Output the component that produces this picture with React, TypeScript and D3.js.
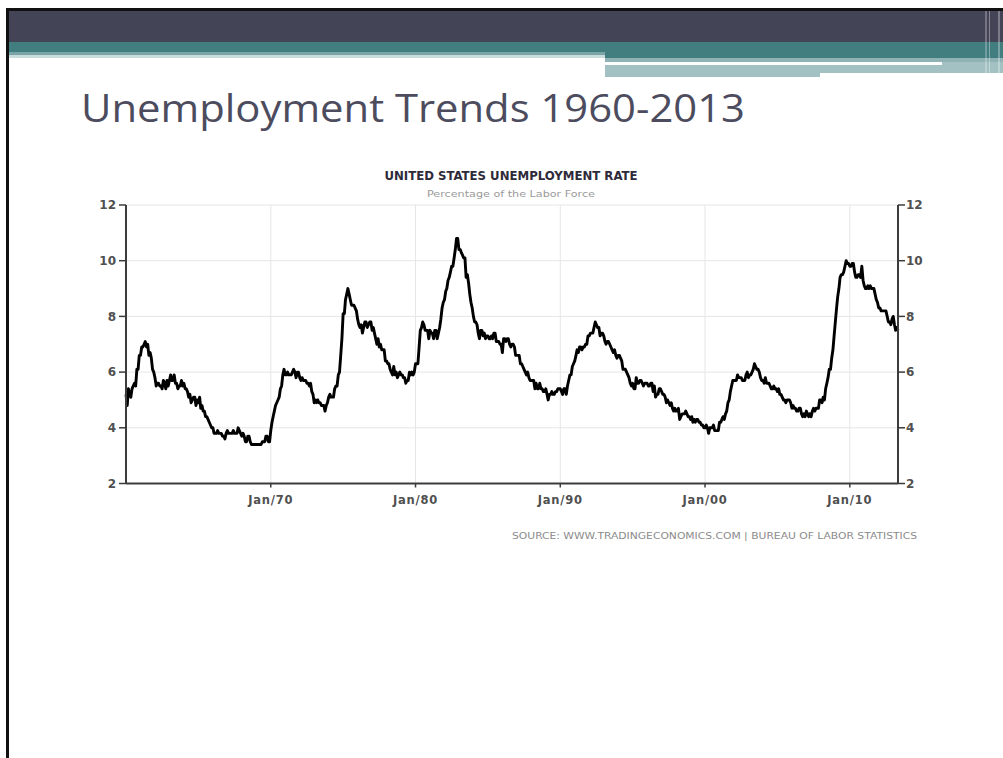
import React from "react";
import * as d3 from "d3";

// Monthly US unemployment rate (%), Jan 1960 – May 2013
const rate1960s: number[] = [
  5.2, 4.8, 5.4, 5.2, 5.1, 5.4, 5.5, 5.6, 5.5, 6.1, 6.1, 6.6,
  6.6, 6.9, 6.9, 7.0, 7.1, 6.9, 7.0, 6.6, 6.7, 6.5, 6.1, 6.0,
  5.8, 5.5, 5.6, 5.6, 5.5, 5.5, 5.4, 5.7, 5.6, 5.4, 5.7, 5.5,
  5.7, 5.9, 5.7, 5.7, 5.9, 5.6, 5.6, 5.4, 5.5, 5.5, 5.7, 5.5,
  5.6, 5.4, 5.4, 5.3, 5.1, 5.2, 4.9, 5.0, 5.1, 5.1, 4.8, 5.0,
  4.9, 5.1, 4.7, 4.8, 4.6, 4.6, 4.4, 4.4, 4.3, 4.2, 4.1, 4.0,
  4.0, 3.8, 3.8, 3.8, 3.9, 3.8, 3.8, 3.8, 3.7, 3.7, 3.6, 3.8,
  3.9, 3.8, 3.8, 3.8, 3.8, 3.9, 3.8, 3.8, 3.8, 4.0, 3.9, 3.8,
  3.7, 3.8, 3.7, 3.5, 3.5, 3.7, 3.7, 3.5, 3.4, 3.4, 3.4, 3.4,
  3.4, 3.4, 3.4, 3.4, 3.4, 3.5, 3.5, 3.5, 3.7, 3.7, 3.5, 3.5,
];
const rate1970s: number[] = [
  3.9, 4.2, 4.4, 4.6, 4.8, 4.9, 5.0, 5.1, 5.4, 5.5, 5.9, 6.1,
  5.9, 5.9, 6.0, 5.9, 5.9, 5.9, 6.0, 6.1, 6.0, 5.8, 6.0, 6.0,
  5.8, 5.7, 5.8, 5.7, 5.7, 5.7, 5.6, 5.6, 5.5, 5.6, 5.3, 5.2,
  4.9, 5.0, 4.9, 5.0, 4.9, 4.9, 4.8, 4.8, 4.8, 4.6, 4.8, 4.9,
  5.1, 5.2, 5.1, 5.1, 5.1, 5.4, 5.5, 5.5, 5.9, 6.0, 6.6, 7.2,
  8.1, 8.1, 8.6, 8.8, 9.0, 8.8, 8.6, 8.4, 8.4, 8.4, 8.3, 8.2,
  7.9, 7.7, 7.6, 7.7, 7.4, 7.6, 7.8, 7.8, 7.6, 7.7, 7.8, 7.8,
  7.5, 7.6, 7.4, 7.2, 7.0, 7.2, 6.9, 7.0, 6.8, 6.8, 6.8, 6.4,
  6.4, 6.3, 6.3, 6.1, 6.0, 5.9, 6.2, 5.9, 6.0, 5.8, 5.9, 6.0,
  5.9, 5.9, 5.8, 5.8, 5.6, 5.7, 5.7, 6.0, 5.9, 6.0, 5.9, 6.0,
];
const rate1980s: number[] = [
  6.3, 6.3, 6.3, 6.9, 7.5, 7.6, 7.8, 7.7, 7.5, 7.5, 7.5, 7.2,
  7.5, 7.4, 7.4, 7.2, 7.5, 7.5, 7.2, 7.4, 7.6, 7.9, 8.3, 8.5,
  8.6, 8.9, 9.0, 9.3, 9.4, 9.6, 9.8, 9.8, 10.1, 10.4, 10.8, 10.8,
  10.4, 10.4, 10.3, 10.2, 10.1, 10.1, 9.4, 9.5, 9.2, 8.8, 8.5, 8.3,
  8.0, 7.8, 7.8, 7.7, 7.4, 7.2, 7.5, 7.5, 7.3, 7.4, 7.2, 7.3,
  7.3, 7.2, 7.2, 7.3, 7.2, 7.4, 7.4, 7.1, 7.1, 7.1, 7.0, 7.0,
  6.7, 7.2, 7.2, 7.1, 7.2, 7.2, 7.0, 6.9, 7.0, 7.0, 6.9, 6.6,
  6.6, 6.6, 6.6, 6.3, 6.3, 6.2, 6.1, 6.0, 5.9, 6.0, 5.8, 5.7,
  5.7, 5.7, 5.7, 5.4, 5.6, 5.4, 5.4, 5.6, 5.4, 5.4, 5.3, 5.3,
  5.4, 5.2, 5.0, 5.2, 5.2, 5.3, 5.2, 5.2, 5.3, 5.3, 5.4, 5.4,
];
const rate1990s: number[] = [
  5.4, 5.3, 5.2, 5.4, 5.4, 5.2, 5.5, 5.7, 5.9, 5.9, 6.2, 6.3,
  6.4, 6.6, 6.8, 6.7, 6.9, 6.9, 6.8, 6.9, 6.9, 7.0, 7.0, 7.3,
  7.3, 7.4, 7.4, 7.4, 7.6, 7.8, 7.7, 7.6, 7.6, 7.3, 7.4, 7.4,
  7.3, 7.1, 7.0, 7.1, 7.1, 7.0, 6.9, 6.8, 6.7, 6.8, 6.6, 6.5,
  6.6, 6.6, 6.5, 6.4, 6.1, 6.1, 6.1, 6.0, 5.9, 5.8, 5.6, 5.5,
  5.6, 5.4, 5.4, 5.8, 5.6, 5.6, 5.7, 5.7, 5.6, 5.5, 5.6, 5.6,
  5.6, 5.5, 5.5, 5.6, 5.6, 5.3, 5.5, 5.1, 5.2, 5.2, 5.4, 5.4,
  5.3, 5.2, 5.2, 5.1, 4.9, 5.0, 4.9, 4.8, 4.9, 4.7, 4.6, 4.7,
  4.6, 4.6, 4.7, 4.3, 4.4, 4.5, 4.5, 4.5, 4.6, 4.5, 4.4, 4.4,
  4.3, 4.4, 4.2, 4.3, 4.2, 4.3, 4.3, 4.2, 4.2, 4.1, 4.1, 4.0,
];
const rate2000s: number[] = [
  4.0, 4.1, 4.0, 3.8, 4.0, 4.0, 4.0, 4.1, 3.9, 3.9, 3.9, 3.9,
  4.2, 4.2, 4.3, 4.4, 4.3, 4.5, 4.6, 4.9, 5.0, 5.3, 5.5, 5.7,
  5.7, 5.7, 5.7, 5.9, 5.8, 5.8, 5.8, 5.7, 5.7, 5.7, 5.9, 6.0,
  5.8, 5.9, 5.9, 6.0, 6.1, 6.3, 6.2, 6.1, 6.1, 6.0, 5.8, 5.7,
  5.7, 5.6, 5.8, 5.6, 5.6, 5.6, 5.5, 5.4, 5.4, 5.5, 5.4, 5.4,
  5.3, 5.4, 5.2, 5.2, 5.1, 5.0, 5.0, 4.9, 5.0, 5.0, 5.0, 4.9,
  4.7, 4.8, 4.7, 4.7, 4.6, 4.6, 4.7, 4.7, 4.5, 4.4, 4.5, 4.4,
  4.6, 4.5, 4.4, 4.5, 4.4, 4.6, 4.7, 4.6, 4.7, 4.7, 4.7, 5.0,
  5.0, 4.9, 5.1, 5.0, 5.4, 5.6, 5.8, 6.1, 6.1, 6.5, 6.8, 7.3,
  7.8, 8.3, 8.7, 9.0, 9.4, 9.5, 9.5, 9.6, 9.8, 10.0, 9.9, 9.9,
];
const rate2010s: number[] = [
  9.8, 9.8, 9.9, 9.9, 9.6, 9.4, 9.4, 9.5, 9.5, 9.4, 9.8, 9.3,
  9.1, 9.0, 9.0, 9.1, 9.0, 9.1, 9.0, 9.0, 9.0, 8.8, 8.6, 8.5,
  8.3, 8.3, 8.2, 8.2, 8.2, 8.2, 8.2, 8.0, 7.8, 7.8, 7.7, 7.9,
  8.0, 7.7, 7.5, 7.6, 7.5,
];

const yTicks: number[] = [2, 4, 6, 8, 10, 12];
const xTickYears: number[] = [1970, 1980, 1990, 2000, 2010];
const xTickLabels: string[] = ["Jan/70", "Jan/80", "Jan/90", "Jan/00", "Jan/10"];

const slideTitle = "Unemployment Trends 1960-2013";
const chartTitle = "UNITED STATES UNEMPLOYMENT RATE";
const chartSubtitle = "Percentage of the Labor Force";
const sourceText = "SOURCE: WWW.TRADINGECONOMICS.COM  |  BUREAU  OF  LABOR  STATISTICS";

const allRates = [...rate1960s, ...rate1970s, ...rate1980s, ...rate1990s, ...rate2000s, ...rate2010s];
const series = allRates.map((v, i) => ({ date: new Date(1960, i, 1), value: v }));

export default function App() {
  const W = 1003;
  const H = 758;
  const left = 126;
  const right = 898;
  const top = 205;
  const bottom = 483.5;

  const x = d3
    .scaleTime()
    .domain([series[0].date, series[series.length - 1].date])
    .range([left, right]);
  const y = d3.scaleLinear().domain([2, 12]).range([bottom, top]);

  const line = d3
    .line<{ date: Date; value: number }>()
    .x((d) => x(d.date))
    .y((d) => y(d.value))
    .curve(d3.curveLinear);

  const axisColor = "#3c3c3c";
  const labelColor = "#505050";
  const labelFont = "'DejaVu Sans', sans-serif";

  return (
    <svg
      width={W}
      height={H}
      viewBox={`0 0 ${W} ${H}`}
      style={{ position: "absolute", left: 0, top: 0, background: "#fff" }}
    >
      {/* slide frame & header */}
      <rect x={0} y={0} width={W} height={H} fill="#fff" />
      <rect x={6} y={8} width={W - 6} height={3} fill="#111" />
      <rect x={6} y={8} width={3} height={H - 8} fill="#111" />
      <rect x={9} y={11} width={W - 9} height={31} fill="#444457" />
      <rect x={9} y={42} width={W - 9} height={11} fill="#427d80" />
      <rect x={9} y={52} width={596} height={3} fill="#7aa5a7" />
      <rect x={9} y={55} width={596} height={3} fill="#c9dcdd" />
      <rect x={605} y={52} width={W - 605} height={6} fill="#427d80" />
      <rect x={605} y={58} width={W - 605} height={4} fill="#8fb3b5" />
      <rect x={605} y={62} width={337} height={3} fill="#ffffff" />
      <rect x={942} y={62} width={W - 942} height={4} fill="#a3c0c2" />
      <rect x={605} y={65} width={215} height={12} fill="#a3c0c2" />
      <rect x={820} y={65} width={W - 820} height={8} fill="#a3c0c2" />
      <rect x={985} y={11} width={2} height={66} fill="#ffffff" opacity={0.25} />
      <rect x={989} y={11} width={1} height={66} fill="#ffffff" opacity={0.35} />
      <rect x={998} y={11} width={2} height={66} fill="#ffffff" opacity={0.3} />

      {/* slide title */}
      <text
        x={81}
        y={122}
        fontFamily="'Open Sans', sans-serif"
        fontSize={39}
        fill="#4c4c5e"
        textLength={664}
        lengthAdjust="spacingAndGlyphs"
      >
        {slideTitle}
      </text>

      {/* chart titles */}
      <text
        x={511}
        y={180}
        textAnchor="middle"
        fontFamily="'DejaVu Sans Condensed', 'DejaVu Sans', sans-serif"
        fontWeight="bold"
        fontSize={12}
        fill="#2e2a3a"
        textLength={253}
        lengthAdjust="spacingAndGlyphs"
      >
        {chartTitle}
      </text>
      <text
        x={511}
        y={197}
        textAnchor="middle"
        fontFamily="'DejaVu Sans', sans-serif"
        fontSize={9}
        fill="#9a9a9a"
        textLength={168}
        lengthAdjust="spacingAndGlyphs"
      >
        {chartSubtitle}
      </text>

      {/* gridlines */}
      {yTicks.filter((t) => t > 2).map((t) => (
        <line key={"gy" + t} x1={left} x2={right} y1={y(t)} y2={y(t)} stroke="#e6e6e6" strokeWidth={1} />
      ))}
      {xTickYears.map((yr) => (
        <line
          key={"gx" + yr}
          x1={x(new Date(yr, 0, 1))}
          x2={x(new Date(yr, 0, 1))}
          y1={top}
          y2={bottom}
          stroke="#e6e6e6"
          strokeWidth={1}
        />
      ))}

      {/* data line */}
      <path d={line(series) || ""} fill="none" stroke="#000" strokeWidth={2.9} strokeLinejoin="round" />

      {/* axes */}
      <line x1={left} x2={left} y1={top} y2={bottom} stroke={axisColor} strokeWidth={2} />
      <line x1={right} x2={right} y1={top} y2={bottom} stroke={axisColor} strokeWidth={2} />
      <line x1={left} x2={right} y1={bottom} y2={bottom} stroke={axisColor} strokeWidth={2} />

      {yTicks.map((t) => (
        <g key={"yt" + t}>
          <line x1={left - 7} x2={left} y1={y(t)} y2={y(t)} stroke={axisColor} strokeWidth={1.5} />
          <line x1={right} x2={right + 7} y1={y(t)} y2={y(t)} stroke={axisColor} strokeWidth={1.5} />
          <text
            x={left - 10}
            y={y(t)}
            dy="0.36em"
            textAnchor="end"
            fontFamily={labelFont}
            fontWeight="bold"
            fontSize={12}
            fill={labelColor}
          >
            {t}
          </text>
          <text
            x={right + 8}
            y={y(t)}
            dy="0.36em"
            textAnchor="start"
            fontFamily={labelFont}
            fontWeight="bold"
            fontSize={12}
            fill={labelColor}
          >
            {t}
          </text>
        </g>
      ))}

      {xTickYears.map((yr, i) => {
        const px = x(new Date(yr, 0, 1));
        return (
          <g key={"xt" + yr}>
            <line x1={px} x2={px} y1={bottom} y2={bottom + 4} stroke={axisColor} strokeWidth={1.5} />
            <text
              x={px}
              y={504}
              textAnchor="middle"
              fontFamily={labelFont}
              fontWeight="bold"
              fontSize={11.5}
              letterSpacing={0.8}
              fill={labelColor}
            >
              {xTickLabels[i]}
            </text>
          </g>
        );
      })}

      {/* source */}
      <text
        x={512}
        y={539}
        fontFamily="'DejaVu Sans', sans-serif"
        fontSize={8.5}
        fill="#8a8a8a"
        textLength={405}
        lengthAdjust="spacingAndGlyphs"
      >
        {sourceText}
      </text>
    </svg>
  );
}
